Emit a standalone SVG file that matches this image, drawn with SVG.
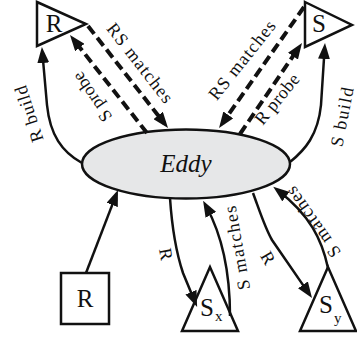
<svg xmlns="http://www.w3.org/2000/svg" width="357" height="339" viewBox="0 0 357 339">
<style>
.shape{fill:#fff;stroke:#111;stroke-width:2.5;stroke-linejoin:miter}
.solid{fill:none;stroke:#111;stroke-width:2.5;marker-end:url(#ah)}
.dash{fill:none;stroke:#111;stroke-width:4;stroke-dasharray:10 5;marker-end:url(#ah)}
text{font-family:'Liberation Serif','DejaVu Serif','Times New Roman',serif;fill:#111}
.big{font-size:25px}
.sub{font-size:15px}
.lbl{font-size:18px;text-anchor:middle;dominant-baseline:central}
</style>
<defs>
<marker id="ah" markerUnits="userSpaceOnUse" markerWidth="16" markerHeight="12" refX="10" refY="6" orient="auto">
<path d="M0,0 L16,6 L0,12 z" fill="#111"/>
</marker>
</defs>
<g id="eddy">
<ellipse cx="186" cy="164" rx="104" ry="34.5" fill="#e6e7e8" stroke="#111" stroke-width="2.5"/>
<text class="big" x="186" y="172" text-anchor="middle" font-style="italic">Eddy</text>
</g>
<g id="r-stem">
<polygon class="shape" points="37,2 86,24 37,46"/>
<text class="big" x="54" y="32" text-anchor="middle">R</text>
</g>
<g id="s-stem">
<polygon class="shape" points="305,2 352,25 305,47"/>
<text class="big" x="319" y="32" text-anchor="middle">S</text>
</g>
<g id="r-source">
<rect class="shape" x="61" y="273" width="48" height="51"/>
<text class="big" x="85" y="307" text-anchor="middle">R</text>
</g>
<g id="sx">
<polygon class="shape" points="210,267 182,331 238,331"/>
<text class="big" x="207" y="316" text-anchor="middle">S</text>
<text class="sub" x="215" y="321">x</text>
</g>
<g id="sy">
<polygon class="shape" points="328,267 300,331 356,331"/>
<text class="big" x="326" y="313" text-anchor="middle">S</text>
<text class="sub" x="334" y="323">y</text>
</g>
<g id="connectors">
<path class="solid" d="M82,163 C62,152 50,135 47,105 L42.4,53"/>
<path class="dash" d="M88,26 L164.3,123.3"/>
<path class="dash" d="M147,133 L73.7,39.7"/>
<path class="dash" d="M304,7 L222.5,123.1"/>
<path class="dash" d="M240,134 L298.6,47.9"/>
<path class="solid" d="M290,162 C305,150 318,135 321,105 L324.6,49"/>
<path class="solid" d="M86,273 L115.8,195.6"/>
<path class="solid" d="M170,198 C172,228 177,255 183,273 L194.8,301.4"/>
<path class="solid" d="M230,316 C230,270 222,235 206,206"/>
<path class="solid" d="M253,193 C260,212 265,228 272,240 L308.6,293.1"/>
<path class="solid" d="M328,268 C322,240 310,215 278,190.5"/>
</g>
<g id="labels">
<text class="lbl" transform="translate(29,114) rotate(-108)" textLength="58" lengthAdjust="spacing">R build</text>
<text class="lbl" transform="translate(140,63) rotate(52)" textLength="96" lengthAdjust="spacing">RS matches</text>
<text class="lbl" transform="translate(92,97) rotate(-124)" textLength="56" lengthAdjust="spacing">S probe</text>
<text class="lbl" transform="translate(242,60) rotate(-51.5)" textLength="96" lengthAdjust="spacing">RS matches</text>
<text class="lbl" transform="translate(277,99) rotate(-51)" textLength="60" lengthAdjust="spacing">R probe</text>
<text class="lbl" transform="translate(342,117) rotate(-79)" textLength="60" lengthAdjust="spacing">S build</text>
<text class="lbl" transform="translate(166,254) rotate(80)">R</text>
<text class="lbl" transform="translate(268,258) rotate(60)">R</text>
<text class="lbl" transform="translate(237,248) rotate(-100)" textLength="85" lengthAdjust="spacing">S matches</text>
<text class="lbl" transform="translate(313,222) rotate(-125)" textLength="82" lengthAdjust="spacing">S matches</text>
</g>
</svg>
